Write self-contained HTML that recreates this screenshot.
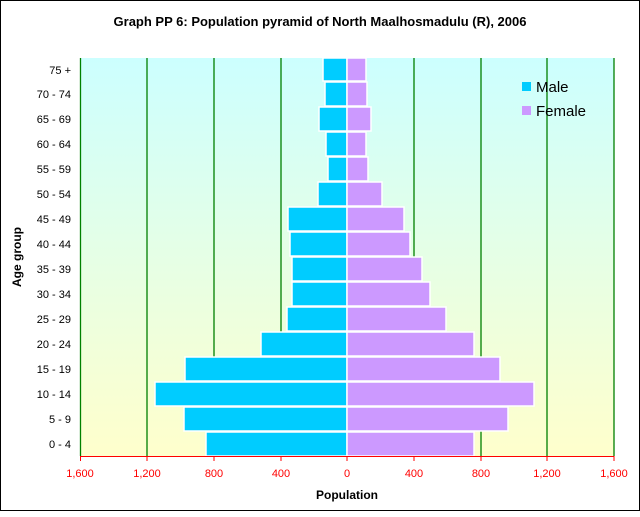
<!DOCTYPE html>
<html><head><style>body{margin:0}</style></head><body>
<svg width="640" height="512" xmlns="http://www.w3.org/2000/svg" font-family="Liberation Sans, sans-serif">
<defs><linearGradient id="g" x1="0" y1="0" x2="0" y2="1"><stop offset="0" stop-color="#ccffff"/><stop offset="1" stop-color="#ffffcc"/></linearGradient></defs>
<rect x="0.5" y="0.5" width="639" height="510" fill="#fff" stroke="#000"/>
<text x="320" y="26" text-anchor="middle" font-size="13" font-weight="bold">Graph PP 6: Population pyramid of North Maalhosmadulu (R), 2006</text>
<rect x="80" y="58" width="534" height="398" fill="url(#g)"/>
<g stroke="#008000" stroke-width="1.3">
<line x1="80.5" y1="58" x2="80.5" y2="456"/><line x1="147" y1="58" x2="147" y2="456"/><line x1="214" y1="58" x2="214" y2="456"/><line x1="281" y1="58" x2="281" y2="456"/><line x1="414" y1="58" x2="414" y2="456"/><line x1="481" y1="58" x2="481" y2="456"/><line x1="547" y1="58" x2="547" y2="456"/><line x1="614" y1="58" x2="614" y2="456"/>
</g>
<g stroke="#fff" stroke-width="1.5">
<g fill="#00ccff">
<rect x="206" y="432" width="141" height="24"/>
<rect x="184" y="407" width="163" height="24"/>
<rect x="155" y="382" width="192" height="24"/>
<rect x="185" y="357" width="162" height="24"/>
<rect x="261" y="332" width="86" height="24"/>
<rect x="287" y="307" width="60" height="24"/>
<rect x="292" y="282" width="55" height="24"/>
<rect x="292" y="257" width="55" height="24"/>
<rect x="290" y="232" width="57" height="24"/>
<rect x="288" y="207" width="59" height="24"/>
<rect x="318" y="182" width="29" height="24"/>
<rect x="328" y="157" width="19" height="24"/>
<rect x="326" y="132" width="21" height="24"/>
<rect x="319" y="107" width="28" height="24"/>
<rect x="325" y="82" width="22" height="24"/>
<rect x="323" y="58" width="24" height="23"/>
</g>
<g fill="#cc99ff">
<rect x="347" y="432" width="127" height="24"/>
<rect x="347" y="407" width="161" height="24"/>
<rect x="347" y="382" width="187" height="24"/>
<rect x="347" y="357" width="153" height="24"/>
<rect x="347" y="332" width="127" height="24"/>
<rect x="347" y="307" width="99" height="24"/>
<rect x="347" y="282" width="83" height="24"/>
<rect x="347" y="257" width="75" height="24"/>
<rect x="347" y="232" width="63" height="24"/>
<rect x="347" y="207" width="57" height="24"/>
<rect x="347" y="182" width="35" height="24"/>
<rect x="347" y="157" width="21" height="24"/>
<rect x="347" y="132" width="19" height="24"/>
<rect x="347" y="107" width="24" height="24"/>
<rect x="347" y="82" width="20" height="24"/>
<rect x="347" y="58" width="19" height="23"/>
</g>
</g>
<g stroke="red" stroke-width="1">
<line x1="80" y1="456.5" x2="614" y2="456.5"/>
<line x1="80.5" y1="456" x2="80.5" y2="461"/><line x1="147" y1="456" x2="147" y2="461"/><line x1="214" y1="456" x2="214" y2="461"/><line x1="281" y1="456" x2="281" y2="461"/><line x1="347" y1="456" x2="347" y2="461"/><line x1="414" y1="456" x2="414" y2="461"/><line x1="481" y1="456" x2="481" y2="461"/><line x1="547" y1="456" x2="547" y2="461"/><line x1="614" y1="456" x2="614" y2="461"/>
</g>
<g font-size="11" fill="red" text-anchor="middle">
<text x="80" y="477">1,600</text><text x="147" y="477">1,200</text><text x="214" y="477">800</text><text x="281" y="477">400</text><text x="347" y="477">0</text><text x="414" y="477">400</text><text x="481" y="477">800</text><text x="547" y="477">1,200</text><text x="614" y="477">1,600</text>
</g>
<g font-size="11" text-anchor="end">
<text x="71" y="448">0 - 4</text><text x="71" y="423">5 - 9</text><text x="71" y="398">10 - 14</text><text x="71" y="373">15 - 19</text><text x="71" y="348">20 - 24</text><text x="71" y="323">25 - 29</text><text x="71" y="298">30 - 34</text><text x="71" y="273">35 - 39</text><text x="71" y="248">40 - 44</text><text x="71" y="223">45 - 49</text><text x="71" y="198">50 - 54</text><text x="71" y="173">55 - 59</text><text x="71" y="148">60 - 64</text><text x="71" y="123">65 - 69</text><text x="71" y="98">70 - 74</text><text x="71" y="74">75 +</text>
</g>
<text x="347" y="499" text-anchor="middle" font-size="12" font-weight="bold">Population</text>
<text transform="translate(21,257) rotate(-90)" text-anchor="middle" font-size="12" font-weight="bold">Age group</text>
<rect x="522" y="82" width="9" height="9" fill="#00ccff"/>
<text x="536" y="92" font-size="15">Male</text>
<rect x="522" y="106" width="9" height="9" fill="#cc99ff"/>
<text x="536" y="116" font-size="15">Female</text>
</svg>
</body></html>
